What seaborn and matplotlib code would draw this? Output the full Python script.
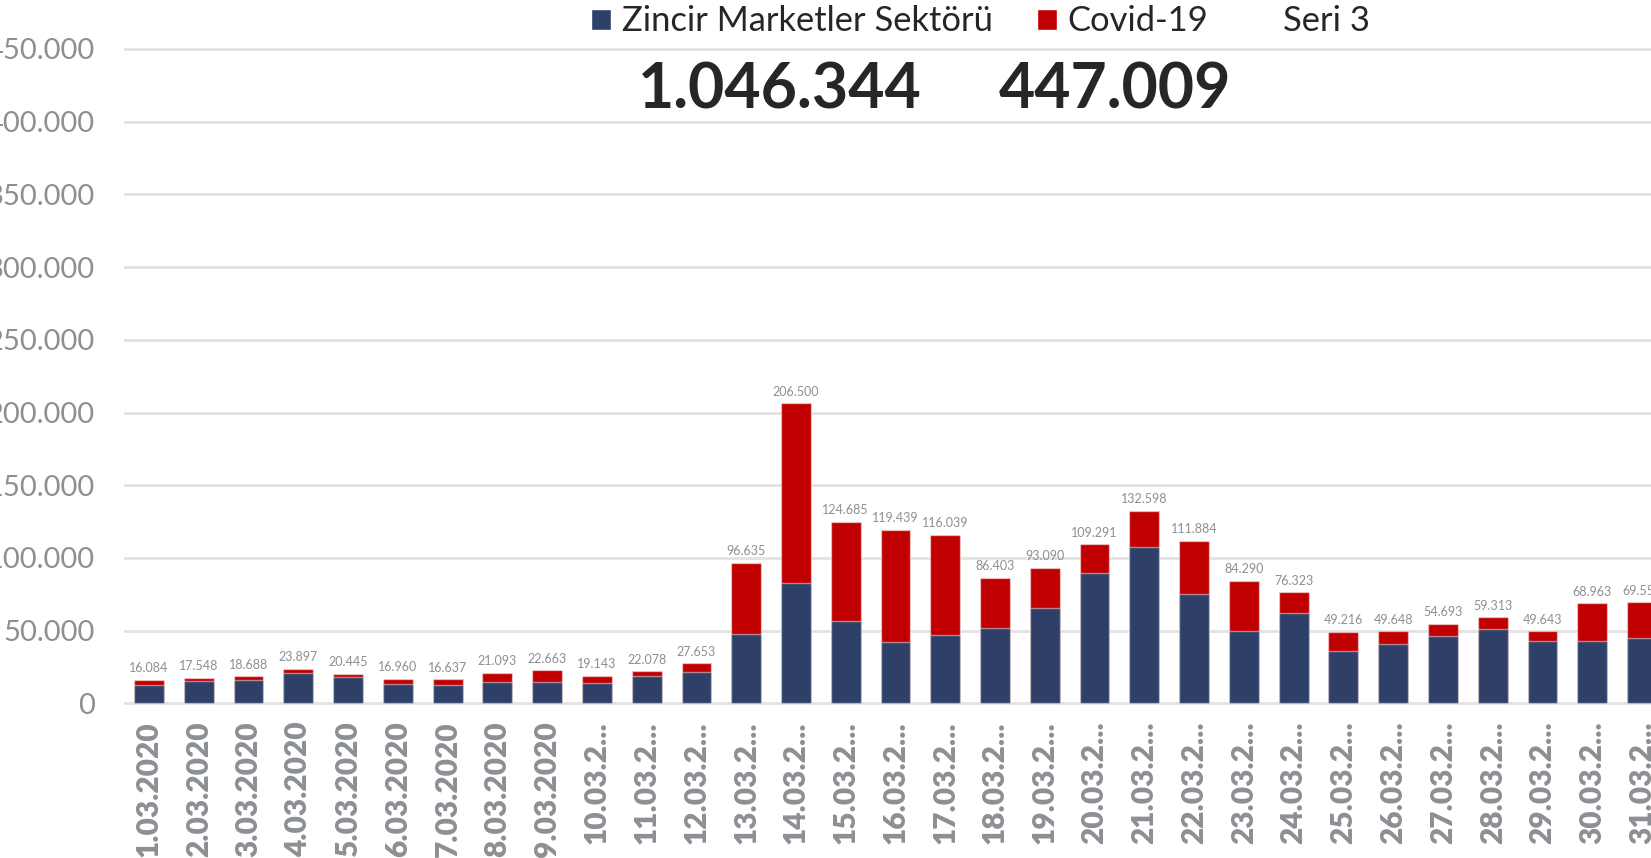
import numpy as np
import pandas as pd
import matplotlib
matplotlib.use("Agg")
import matplotlib.pyplot as plt
from matplotlib.patches import Patch
from matplotlib.ticker import FuncFormatter, MultipleLocator
import seaborn as sns

# günlük etiketler (grafikte görüldüğü gibi, uzun olanlar kısaltılmış)
dates = ["1.03.2020", "2.03.2020", "3.03.2020", "4.03.2020", "5.03.2020",
         "6.03.2020", "7.03.2020", "8.03.2020", "9.03.2020", "10.03.2...",
         "11.03.2...", "12.03.2...", "13.03.2...", "14.03.2...", "15.03.2...",
         "16.03.2...", "17.03.2...", "18.03.2...", "19.03.2...", "20.03.2...",
         "21.03.2...", "22.03.2...", "23.03.2...", "24.03.2...", "25.03.2...",
         "26.03.2...", "27.03.2...", "28.03.2...", "29.03.2...", "30.03.2...",
         "31.03.2..."]

# çubuk üstündeki toplam değerler
totals = [16084, 17548, 18688, 23897, 20445, 16960, 16637, 21093, 22663, 19143,
          22078, 27653, 96635, 206500, 124685, 119439, 116039, 86403, 93090, 109291,
          132598, 111884, 84290, 76323, 49216, 49648, 54693, 59313, 49643, 68963,
          69559]

# lacivert kısım (Zincir Marketler Sektörü), grafikten okunan tahmini değerler
zincir = [12500, 15500, 16200, 21000, 18000, 13600, 12700, 14800, 14800, 14100,
          18900, 21400, 47500, 82800, 56500, 42200, 47100, 52100, 65700, 89300,
          107500, 75500, 49800, 62400, 35800, 40600, 46100, 51400, 42900, 42900,
          44700]

series_names = ["Zincir Marketler Sektörü", "Covid-19", "Seri 3"]
big_numbers = ["1.046.344", "447.009"]

BLUE = "#2e4068"
RED = "#c00000"
GRAY = "#8c8f93"
DARK = "#262626"
EDGE = (1, 1, 1, 0.45)


def dotted(v, pos=None):
    return f"{v:,.0f}".replace(",", ".")


df = pd.DataFrame({"tarih": dates, "toplam": totals, "zincir": zincir})
df["covid"] = df["toplam"] - df["zincir"]

sns.set_style("white")
plt.rcParams["font.family"] = ["Lato", "DejaVu Sans"]

fig = plt.figure(figsize=(16.51, 8.58), dpi=100)
ax = fig.add_axes([0.0752, 0.1789, 0.9344, 0.7674])

# kırmızı = toplam, üzerine lacivert = zincir marketler -> yığılmış görünüm
sns.barplot(data=df, x="tarih", y="toplam", color=RED, saturation=1, width=0.6,
            edgecolor=EDGE, linewidth=1, ax=ax, zorder=2)
sns.barplot(data=df, x="tarih", y="zincir", color=BLUE, saturation=1, width=0.6,
            edgecolor=EDGE, linewidth=1, ax=ax, zorder=3)

ax.bar_label(ax.containers[0], labels=[dotted(v) for v in totals], padding=4,
             fontsize=9, color=GRAY)

ax.set_xlim(-0.5, 30.5)
ax.set_ylim(-800, 452000)
ax.yaxis.set_major_locator(MultipleLocator(50000))
ax.yaxis.set_major_formatter(FuncFormatter(dotted))
ax.set_xticks(range(len(dates)))
ax.set_xticklabels(dates, rotation=90, fontweight="heavy", fontsize=21.5, color=GRAY)
ax.tick_params(axis="x", length=0, pad=12)
ax.tick_params(axis="y", length=0, pad=21, labelsize=21, labelcolor=GRAY)
ax.set_xlabel("")
ax.set_ylabel("")
ax.set_axisbelow(True)
ax.grid(axis="y", color="#e2e2e2", linewidth=2)
ax.grid(axis="x", visible=False)
sns.despine(ax=ax, left=True, bottom=True)

handles = [Patch(facecolor=BLUE), Patch(facecolor=RED),
           Patch(facecolor="none", edgecolor="none")]
fig.legend(handles, series_names, loc="center", bbox_to_anchor=(0.594, 0.975),
           ncol=3, frameon=False, fontsize=24.8, handlelength=0.58, handleheight=0.58,
           handletextpad=0.3, columnspacing=1.3, labelcolor=DARK)

fig.text(0.4724, 0.895, big_numbers[0], ha="center", va="center", fontsize=45,
         fontweight="bold", color=DARK)
fig.text(0.6754, 0.895, big_numbers[1], ha="center", va="center", fontsize=45,
         fontweight="bold", color=DARK)

fig.savefig("out.png", dpi=100)
